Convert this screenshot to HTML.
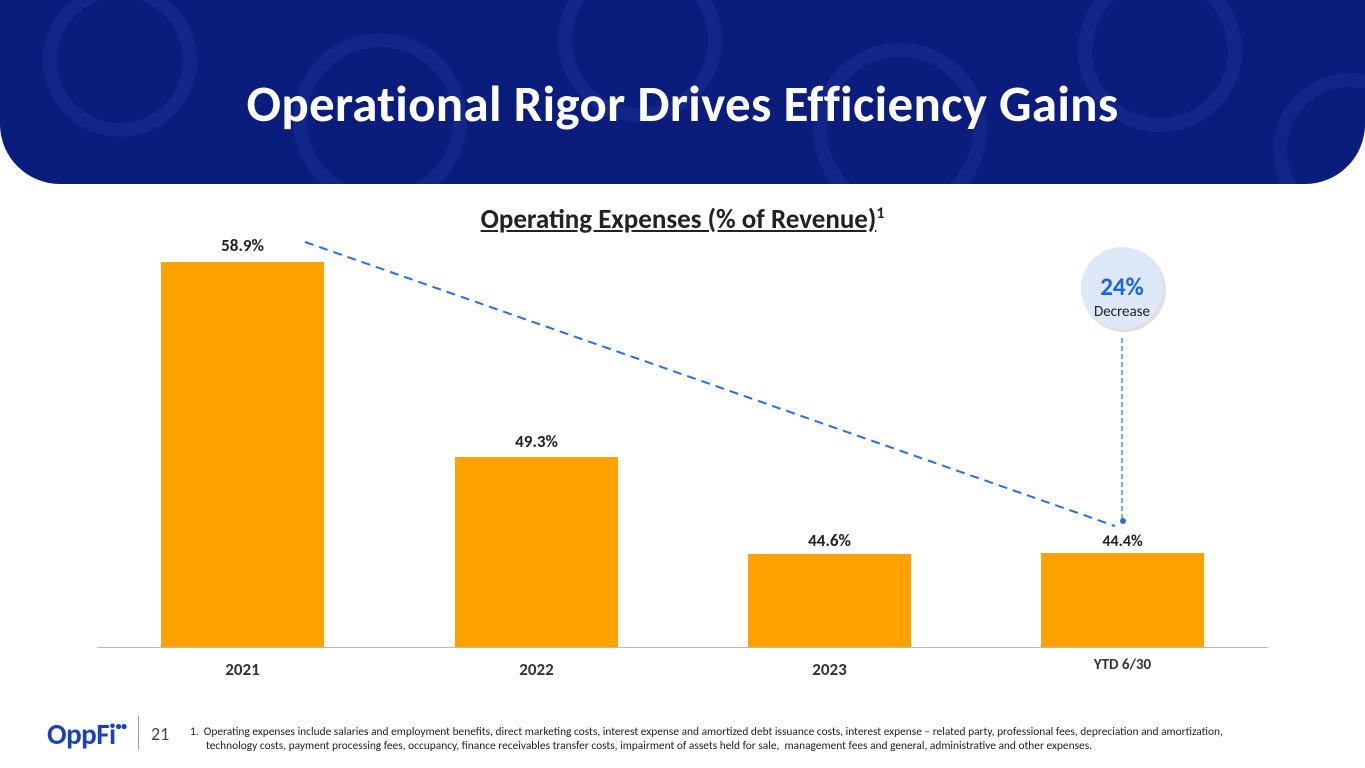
<!DOCTYPE html>
<html><head><meta charset="utf-8"><style>
body{margin:0;width:1365px;height:768px;background:#fff;position:relative;overflow:hidden;font-family:Carlito,"Liberation Sans",sans-serif}
.hdr{position:absolute;left:0;top:0;width:1365px;height:184px;background:#0a1c7c;border-radius:0 0 60px 60px;overflow:hidden}
.hdr h1{margin:0;position:absolute;top:72px;width:100%;text-align:center;color:#fff;font-size:51px;font-weight:bold;letter-spacing:0.3px}
.bar{position:absolute;background:#FFA200;width:163px;bottom:121px}
.v{position:absolute;font-weight:bold;font-size:17px;color:#222;width:163px;text-align:center}
.x{position:absolute;top:659px;font-weight:bold;font-size:17px;color:#333;width:163px;text-align:center}
</style></head><body>
<div class="hdr">
<svg width="1365" height="184" style="position:absolute;left:0;top:0;opacity:.12">
<g fill="none" stroke="#4a6be0" stroke-width="14">
<circle cx="120" cy="60" r="70"/><circle cx="380" cy="120" r="80"/><circle cx="640" cy="40" r="75"/><circle cx="900" cy="130" r="80"/><circle cx="1160" cy="50" r="75"/><circle cx="1350" cy="150" r="70"/></g></svg>
<h1>Operational Rigor Drives Efficiency Gains</h1></div>
<div style="position:absolute;top:203px;width:100%;text-align:center;font-size:27px;font-weight:bold;color:#222"><span style="text-decoration:underline">Operating Expenses (% of Revenue)</span><sup style="font-size:16px">1</sup></div>
<div class="bar" style="left:161px;height:385px"></div>
<div class="bar" style="left:455px;height:190px"></div>
<div class="bar" style="left:748px;height:93px"></div>
<div class="bar" style="left:1041px;height:94px"></div>
<div class="v" style="left:161px;top:235px">58.9%</div>
<div class="v" style="left:455px;top:431px">49.3%</div>
<div class="v" style="left:748px;top:530px">44.6%</div>
<div class="v" style="left:1041px;top:532px;font-size:16px">44.4%</div>
<div style="position:absolute;left:97px;top:647px;width:1171px;height:1px;background:#bbb"></div>
<div class="x" style="left:161px">2021</div>
<div class="x" style="left:455px">2022</div>
<div class="x" style="left:748px">2023</div>
<div class="x" style="left:1041px;font-size:15px;top:656px">YTD 6/30</div>
<svg width="1365" height="768" style="position:absolute;left:0;top:0">
<line x1="305" y1="242" x2="1115" y2="526" stroke="#2c6de0" stroke-width="2" stroke-dasharray="9,6"/>
<line x1="1122" y1="338" x2="1122" y2="520" stroke="#2c6de0" stroke-width="1.2" stroke-dasharray="5,3"/>
<circle cx="1123" cy="521" r="3" fill="#2c6de0"/>
<circle cx="1124" cy="290" r="42" fill="#000" opacity=".12"/>
<circle cx="1122" cy="288" r="41" fill="#dde8f8"/>
<text x="1122" y="295" text-anchor="middle" font-family="Carlito,'Liberation Sans',sans-serif" font-weight="bold" font-size="25" fill="#1a66e0">24%</text>
<text x="1122" y="316" text-anchor="middle" font-family="Carlito,'Liberation Sans',sans-serif" font-size="15" fill="#222">Decrease</text>
</svg>
<div style="position:absolute;left:47px;top:716px;font-size:29px;font-weight:bold;color:#1a3fbf;letter-spacing:-0.5px">OppFi<sup style="font-size:12px;vertical-align:14px">••</sup></div>
<div style="position:absolute;left:138px;top:716px;width:1px;height:34px;background:#8aa"></div>
<div style="position:absolute;left:151px;top:723px;font-size:18px;color:#444">21</div>
<div style="position:absolute;left:190px;top:725px;font-size:11.4px;color:#222;line-height:14px">1.&nbsp; Operating expenses include salaries and employment benefits, direct marketing costs, interest expense and amortized debt issuance costs, interest expense – related party, professional fees, depreciation and amortization,<br><span style="padding-left:16px">technology costs, payment processing fees, occupancy, finance receivables transfer costs, impairment of assets held for sale,&nbsp; management fees and general, administrative and other expenses.</span></div>
</body></html>
